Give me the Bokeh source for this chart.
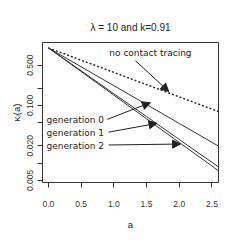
import numpy as np
from bokeh.plotting import figure
from bokeh.models import (FixedTicker, Arrow, NormalHead, Label, Range1d)
from bokeh.embed import file_html
from bokeh.resources import INLINE

# ---- data ----
a_vals = [0.0, 0.5, 1.0, 1.5, 2.0, 2.5, 2.6]
no_tracing = [1.0, 0.612, 0.376, 0.230, 0.141, 0.0864, 0.0783]
generation0 = [1.0, 0.470, 0.221, 0.104, 0.0488, 0.0229, 0.0197]
generation1 = [1.0, 0.401, 0.160, 0.0643, 0.0257, 0.0103, 0.0086]
generation2 = [1.0, 0.389, 0.151, 0.0587, 0.0228, 0.0089, 0.0073]

x_ticks = [0.0, 0.5, 1.0, 1.5, 2.0, 2.5]
y_ticks = [0.005, 0.01, 0.02, 0.05, 0.1, 0.2, 0.5]
y_labels = {0.005: "0.005", 0.01: "", 0.02: "0.020", 0.05: "", 0.1: "0.100",
            0.2: "", 0.5: "0.500"}

# annotation positions (data units)
txt_no = (1.56, 0.81)
arr_no = (1.33, 0.60, 1.84, 0.175)
gen_txt_x = 0.85
gen_txt_y = [0.0552, 0.0331, 0.0198]
gen_arrows = [(0.90, 0.0574, 1.56, 0.112),
              (0.92, 0.0344, 1.66, 0.049),
              (0.92, 0.0206, 2.02, 0.0214)]
gen_names = ["generation 0", "generation 1", "generation 2"]

p = figure(width=232, height=232, output_backend="svg", toolbar_location=None,
           y_axis_type="log", x_range=Range1d(-0.09, 2.6),
           y_range=Range1d(0.0046, 1.24),
           min_border_left=42, min_border_right=14, min_border_top=42,
           min_border_bottom=49)
p.title.text = "λ = 10 and k=0.91"
p.title.align = "center"
p.title.text_font = "Liberation Sans"
p.title.text_font_size = "10px"
p.title.text_font_style = "normal"
p.title.text_color = "#222222"
p.title.standoff = 20

p.grid.visible = False
p.outline_line_color = "#333333"
p.outline_line_width = 1
p.background_fill_color = "white"
p.border_fill_color = "white"

for ax in (p.xaxis[0], p.yaxis[0]):
    ax.axis_line_color = None
    ax.major_tick_line_color = "#333333"
    ax.major_tick_out = 5
    ax.major_tick_in = 0
    ax.minor_tick_line_color = None
    ax.major_label_text_font = "Liberation Sans"
    ax.major_label_text_font_size = "8.5px"
    ax.major_label_text_color = "#333333"
    ax.axis_label_text_font = "Liberation Sans"
    ax.axis_label_text_font_size = "9.5px"
    ax.axis_label_text_font_style = "normal"
    ax.axis_label_text_color = "#222222"

p.xaxis.ticker = FixedTicker(ticks=x_ticks)
p.xaxis.major_label_overrides = {v: f"{v:.1f}" for v in x_ticks}
p.xaxis.axis_label = "a"
p.xaxis.major_label_standoff = 13
p.xaxis.axis_label_standoff = 9

p.yaxis.ticker = FixedTicker(ticks=y_ticks)
p.yaxis.major_label_overrides = y_labels
p.yaxis.major_label_orientation = "vertical"
p.yaxis.axis_label = "κᵢ(a)"
p.yaxis.major_label_standoff = 4
p.yaxis.axis_label_standoff = 3

lc = "#333333"
p.line(a_vals, no_tracing, line_color="#222222", line_width=1.4, line_dash="2 2")
p.line(a_vals, generation0, line_color=lc, line_width=1)
p.line(a_vals, generation1, line_color=lc, line_width=1)
p.line(a_vals, generation2, line_color=lc, line_width=1)

p.add_layout(Label(x=txt_no[0], y=txt_no[1], text="no contact tracing",
                   text_font="DejaVu Sans", text_font_size="9px",
                   text_align="center", text_baseline="middle",
                   text_color="#222222"))
for (x0, y0, x1, y1) in [arr_no] + gen_arrows:
    p.add_layout(Arrow(x_start=x0, y_start=y0, x_end=x1, y_end=y1,
                       line_color="#222222", line_width=1,
                       end=NormalHead(size=8, fill_color="#222222",
                                      line_color="#222222", line_width=1)))
for name, ty in zip(gen_names, gen_txt_y):
    p.add_layout(Label(x=gen_txt_x, y=ty, text=name, text_font="DejaVu Sans",
                       text_font_size="9px", text_align="right",
                       text_baseline="middle", text_color="#222222"))

open("out.html", "w").write(file_html(p, INLINE))
